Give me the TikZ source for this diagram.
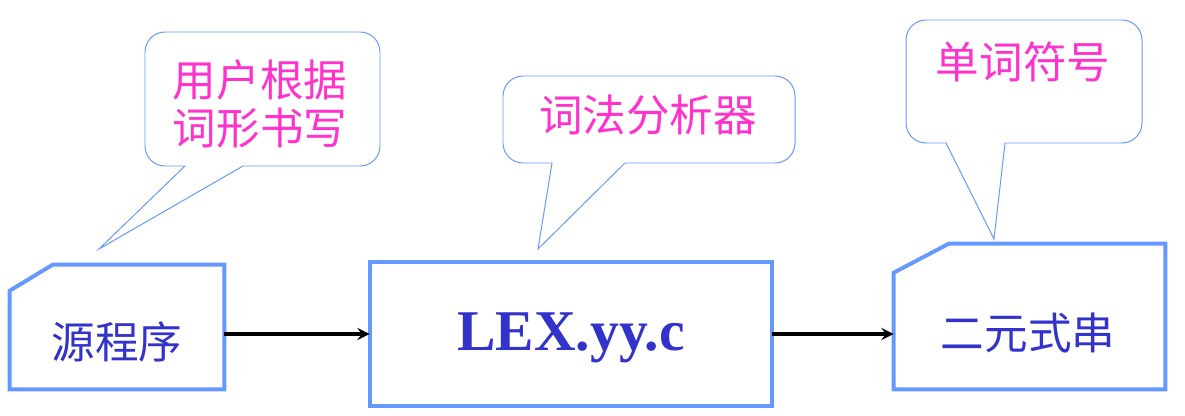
\documentclass[tikz,border=0pt]{standalone}
\usepackage{fontspec}
\newfontfamily\cjk{Noto Sans CJK SC}
\newfontfamily\lexfont{Liberation Serif}
\usetikzlibrary{arrows,positioning}
\definecolor{boxblue}{RGB}{102,153,255}
\definecolor{textblue}{RGB}{51,51,204}
\definecolor{notepink}{RGB}{255,51,204}

\tikzset{
  stagebox/.style={inner sep=0pt},
  boxline/.style={draw=boxblue, line width=2.8pt, line join=miter},
  stagetext/.style={text=textblue, font=\cjk\fontsize{31}{34}\selectfont, inner sep=0pt},
  notetext/.style={text=notepink, font=\cjk\fontsize{31}{34}\selectfont, align=center, inner sep=0pt},
  callout/.style={draw=boxblue, line width=0.7pt},
  flowarrow/.style={line width=2.8pt, ->, >=stealth}
}

\begin{document}
\begin{tikzpicture}[x=0.025cm,y=-0.025cm]

  \fill [white] (0,0) rectangle (1185,415);
  \useasboundingbox (0,0) rectangle (1185,415);

  % stages
  \node [stagebox, minimum width=5.35cm, minimum height=3.1cm] (src) at (117,327) {};
  \node [stagebox, minimum width=10.05cm, minimum height=3.6cm] (lex) at (571,334) {};
  \node [stagebox, minimum width=6.775cm, minimum height=3.625cm] (tokens) at (1029.5,316.5) {};

  \draw [boxline] ([yshift=-0.65cm]src.north west) -- ([xshift=1.075cm]src.north west)
        -- (src.north east) -- (src.south east) -- (src.south west) -- cycle;
  \draw [boxline] (lex.north west) rectangle (lex.south east);
  \draw [boxline] ([yshift=-0.725cm]tokens.north west) -- ([xshift=1.375cm]tokens.north west)
        -- (tokens.north east) -- (tokens.south east) -- (tokens.south west) -- cycle;

  \node [stagetext] (srctext) at (117,342) {源程序};
  \node [text=textblue, font=\lexfont\bfseries\fontsize{41}{44}\selectfont, inner sep=0pt] (lextext) at (571,338) {LEX.yy.c};
  \node [stagetext] (tokenstext) at (1028,333) {二元式串};

  \draw [flowarrow] (lex.west -| src.east) -- (lex.west);
  \draw [flowarrow] (lex.east) -- (lex.east -| tokens.west);

  % callouts
  \draw [callout] (243,166) [rounded corners=0.5cm] -- (380,166) -- (380,32) -- (145,32) -- (145,166)
        [sharp corners] -- (185,166) -- (99,249) -- cycle;
  \draw [callout] (625,163) [rounded corners=0.5cm] -- (795,163) -- (795,76) -- (503,76) -- (503,163)
        [sharp corners] -- (552,163) -- (538,249) -- cycle;
  \draw [callout] (1005,143) [rounded corners=0.5cm] -- (1142,143) -- (1142,20) -- (906,20) -- (906,143)
        [sharp corners] -- (946,143) -- (994,239) -- cycle;

  \node [notetext] (srcnote) at (260,104) {用户根据\\词形书写};
  \node [notetext] (lexnote) at (648,115) {词法分析器};
  \node [notetext] (tokensnote) at (1023,62) {单词符号};

\end{tikzpicture}
\end{document}
